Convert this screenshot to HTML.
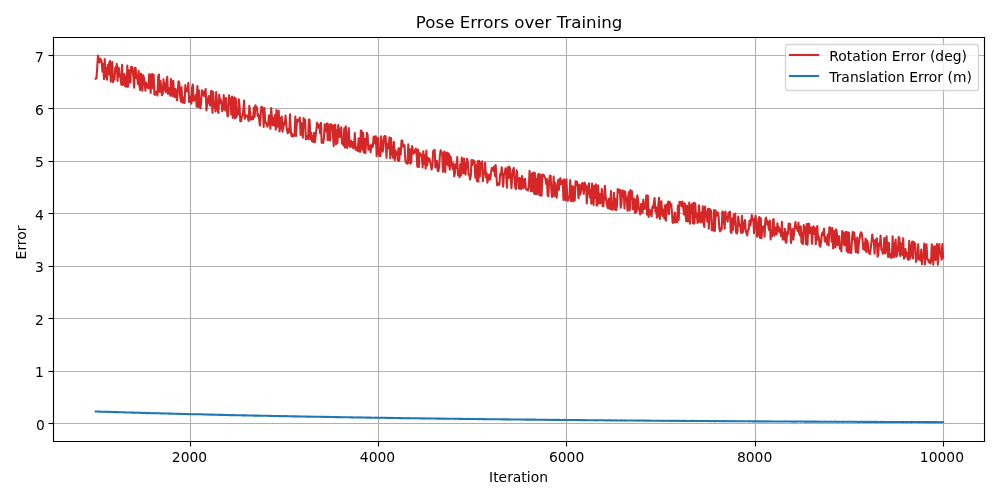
<!DOCTYPE html>
    <html><head><meta charset="utf-8"><title>Pose Errors over Training</title>
    <style>html,body{margin:0;padding:0;width:999px;height:499px;overflow:hidden;background:#ffffff}svg{display:block}</style>
    </head><body>
    <div style="will-change:transform;width:999px;height:499px">
    <svg width="999" height="499" viewBox="0 0 999 499">
    <rect x="0" y="0" width="999" height="499" fill="#ffffff"/>
    <defs><clipPath id="ax"><rect x="53.15" y="37.33" width="931.25" height="403.97"/></clipPath></defs>
    <g stroke="#b0b0b0" stroke-width="1.1111" stroke-linecap="square">
    <line x1="190.5" y1="37.5" x2="190.5" y2="441.5"/>
<line x1="378.5" y1="37.5" x2="378.5" y2="441.5"/>
<line x1="566.5" y1="37.5" x2="566.5" y2="441.5"/>
<line x1="755.5" y1="37.5" x2="755.5" y2="441.5"/>
<line x1="943.5" y1="37.5" x2="943.5" y2="441.5"/>
<line x1="53.5" y1="423.5" x2="984.5" y2="423.5"/>
<line x1="53.5" y1="371.5" x2="984.5" y2="371.5"/>
<line x1="53.5" y1="318.5" x2="984.5" y2="318.5"/>
<line x1="53.5" y1="266.5" x2="984.5" y2="266.5"/>
<line x1="53.5" y1="213.5" x2="984.5" y2="213.5"/>
<line x1="53.5" y1="161.5" x2="984.5" y2="161.5"/>
<line x1="53.5" y1="108.5" x2="984.5" y2="108.5"/>
<line x1="53.5" y1="55.5" x2="984.5" y2="55.5"/>
    </g>
    <g clip-path="url(#ax)" fill="none" stroke-width="2.0833" stroke-linejoin="round" stroke-linecap="square">
    <polyline stroke="#d62728" points="95.69,78.63 96.45,78.44 97.20,67.99 97.95,55.50 98.71,59.71 99.46,62.53 100.21,58.66 100.97,59.84 101.72,62.37 102.47,71.63 103.23,63.93 103.98,79.22 104.73,59.13 105.49,77.15 106.24,68.09 106.99,79.64 107.75,65.08 108.50,74.57 109.25,62.62 110.01,60.98 110.76,81.67 111.51,73.83 112.27,62.01 113.02,82.27 113.77,80.00 114.53,79.32 115.28,67.46 116.03,70.54 116.79,63.92 117.54,81.02 118.29,67.51 119.05,68.82 119.80,76.96 120.55,76.57 121.31,84.60 122.06,64.86 122.81,84.86 123.56,84.42 124.32,74.09 125.07,86.30 125.82,76.47 126.58,86.69 127.33,65.53 128.08,86.76 128.84,70.00 129.59,73.24 130.34,82.75 131.10,66.74 131.85,66.87 132.60,69.71 133.36,76.49 134.11,87.74 134.86,67.78 135.62,67.75 136.37,78.13 137.12,75.38 137.88,83.99 138.63,70.79 139.38,85.34 140.14,90.08 140.89,73.60 141.64,74.75 142.40,90.64 143.15,75.21 143.90,77.64 144.66,83.59 145.41,90.63 146.16,82.61 146.92,85.49 147.67,87.60 148.42,88.38 149.18,74.26 149.93,74.39 150.68,92.96 151.43,76.62 152.19,74.01 152.94,88.25 153.69,74.91 154.45,94.71 155.20,94.80 155.95,91.57 156.71,92.13 157.46,95.56 158.21,76.24 158.97,74.52 159.72,91.98 160.47,80.93 161.23,88.21 161.98,95.29 162.73,93.74 163.49,79.38 164.24,90.07 164.99,83.58 165.75,92.23 166.50,81.46 167.25,76.82 168.01,93.92 168.76,92.80 169.51,88.00 170.27,95.65 171.02,79.07 171.77,90.66 172.53,96.12 173.28,80.83 174.03,95.32 174.79,97.21 175.54,88.81 176.29,94.71 177.04,100.34 177.80,90.69 178.55,81.20 179.30,82.75 180.06,95.57 180.81,101.53 181.56,87.21 182.32,102.53 183.07,102.75 183.82,97.20 184.58,102.86 185.33,85.02 186.08,91.47 186.84,91.25 187.59,91.32 188.34,82.72 189.10,102.06 189.85,96.63 190.60,97.81 191.36,103.59 192.11,87.25 192.86,84.50 193.62,100.90 194.37,97.68 195.12,99.93 195.88,94.91 196.63,106.67 197.38,85.99 198.14,107.06 198.89,90.26 199.64,105.66 200.40,108.55 201.15,101.78 201.90,90.18 202.66,94.65 203.41,91.45 204.16,96.19 204.91,92.71 205.67,89.08 206.42,110.50 207.17,104.24 207.93,99.72 208.68,96.14 209.43,103.29 210.19,105.76 210.94,91.17 211.69,90.92 212.45,112.66 213.20,91.94 213.95,107.57 214.71,104.51 215.46,111.54 216.21,92.14 216.97,102.68 217.72,110.67 218.47,112.98 219.23,94.72 219.98,102.64 220.73,99.48 221.49,103.33 222.24,111.11 222.99,109.13 223.75,94.97 224.50,105.75 225.25,110.34 226.01,97.97 226.76,108.91 227.51,116.48 228.27,115.31 229.02,95.34 229.77,101.89 230.52,98.58 231.28,114.46 232.03,96.47 232.78,118.03 233.54,103.22 234.29,97.18 235.04,118.43 235.80,98.52 236.55,117.25 237.30,110.97 238.06,114.56 238.81,99.26 239.56,105.89 240.32,121.15 241.07,121.29 241.82,116.71 242.58,115.47 243.33,110.25 244.08,100.66 244.84,118.79 245.59,115.16 246.34,115.28 247.10,115.91 247.85,117.80 248.60,120.91 249.36,105.87 250.11,112.03 250.86,119.80 251.62,116.79 252.37,118.57 253.12,119.27 253.88,107.66 254.63,116.99 255.38,105.21 256.14,107.36 256.89,107.21 257.64,115.87 258.39,114.20 259.15,119.28 259.90,125.53 260.65,115.14 261.41,106.69 262.16,107.12 262.91,108.76 263.67,126.86 264.42,108.08 265.17,121.13 265.93,122.65 266.68,124.94 267.43,126.60 268.19,123.88 268.94,115.33 269.69,121.28 270.45,128.63 271.20,108.01 271.95,118.03 272.71,125.14 273.46,117.97 274.21,125.17 274.97,115.00 275.72,129.71 276.47,110.00 277.23,126.87 277.98,125.48 278.73,110.81 279.49,131.41 280.24,128.18 280.99,117.89 281.75,116.55 282.50,131.72 283.25,127.54 284.00,122.50 284.76,124.37 285.51,115.52 286.26,125.11 287.02,130.20 287.77,133.36 288.52,129.03 289.28,132.19 290.03,114.19 290.78,130.56 291.54,136.01 292.29,133.89 293.04,136.55 293.80,136.15 294.55,134.22 295.30,116.61 296.06,135.92 296.81,123.34 297.56,119.51 298.32,121.23 299.07,120.87 299.82,117.47 300.58,134.93 301.33,123.06 302.08,129.58 302.84,137.76 303.59,118.12 304.34,123.81 305.10,119.89 305.85,139.43 306.60,136.77 307.36,135.78 308.11,139.12 308.86,119.50 309.62,119.67 310.37,139.23 311.12,132.82 311.87,141.27 312.63,135.91 313.38,142.00 314.13,132.68 314.89,142.19 315.64,136.13 316.39,129.42 317.15,122.83 317.90,127.46 318.65,124.57 319.41,126.99 320.16,133.45 320.91,122.68 321.67,142.64 322.42,140.47 323.17,143.02 323.93,137.78 324.68,124.28 325.43,131.37 326.19,124.88 326.94,123.33 327.69,140.08 328.45,124.38 329.20,139.94 329.95,140.51 330.71,124.14 331.46,128.18 332.21,125.16 332.97,135.30 333.72,146.08 334.47,125.07 335.23,124.78 335.98,144.28 336.73,130.27 337.49,142.99 338.24,125.13 338.99,129.49 339.74,137.07 340.50,134.54 341.25,127.33 342.00,143.69 342.76,139.28 343.51,145.39 344.26,128.18 345.02,147.62 345.77,126.40 346.52,138.49 347.28,147.86 348.03,136.01 348.78,128.06 349.54,145.57 350.29,146.95 351.04,140.77 351.80,146.41 352.55,141.99 353.30,148.46 354.06,147.71 354.81,133.15 355.56,148.44 356.32,150.25 357.07,147.06 357.82,150.69 358.58,138.37 359.33,151.62 360.08,151.84 360.84,130.59 361.59,130.79 362.34,149.72 363.10,133.07 363.85,152.50 364.60,138.81 365.35,153.14 366.11,143.44 366.86,132.75 367.61,134.76 368.37,149.65 369.12,146.37 369.87,145.49 370.63,152.14 371.38,144.60 372.13,147.46 372.89,146.37 373.64,136.68 374.39,136.50 375.15,143.42 375.90,136.24 376.65,156.24 377.41,143.55 378.16,137.70 378.91,154.04 379.67,156.04 380.42,156.12 381.17,136.21 381.93,142.47 382.68,151.72 383.43,147.25 384.19,136.35 384.94,136.03 385.69,136.18 386.45,157.82 387.20,144.29 387.95,143.57 388.71,148.15 389.46,137.33 390.21,158.31 390.97,137.96 391.72,146.64 392.47,154.70 393.22,157.92 393.98,141.87 394.73,160.20 395.48,150.38 396.24,152.55 396.99,152.71 397.74,160.34 398.50,148.18 399.25,160.96 400.00,148.37 400.76,154.39 401.51,140.48 402.26,140.55 403.02,146.21 403.77,147.08 404.52,145.19 405.28,160.30 406.03,162.71 406.78,162.96 407.54,163.76 408.29,144.29 409.04,162.44 409.80,149.16 410.55,163.67 411.30,161.94 412.06,146.00 412.81,149.56 413.56,153.62 414.32,150.68 415.07,152.50 415.82,148.43 416.58,153.81 417.33,166.66 418.08,149.48 418.83,167.07 419.59,153.31 420.34,153.34 421.09,155.37 421.85,155.28 422.60,167.40 423.35,151.20 424.11,163.66 424.86,155.28 425.61,168.61 426.37,150.48 427.12,165.62 427.87,157.80 428.63,161.24 429.38,158.58 430.13,162.18 430.89,165.10 431.64,169.54 432.39,164.82 433.15,150.95 433.90,150.62 434.65,149.81 435.41,167.41 436.16,166.06 436.91,160.87 437.67,170.79 438.42,171.18 439.17,166.43 439.93,154.47 440.68,150.22 441.43,151.69 442.19,154.14 442.94,171.70 443.69,153.41 444.45,151.51 445.20,172.27 445.95,152.74 446.70,164.19 447.46,152.53 448.21,165.77 448.96,153.87 449.72,169.77 450.47,156.29 451.22,160.20 451.98,165.66 452.73,169.13 453.48,163.28 454.24,176.17 454.99,172.70 455.74,164.27 456.50,167.83 457.25,156.99 458.00,175.11 458.76,170.88 459.51,177.26 460.26,164.31 461.02,175.46 461.77,157.47 462.52,167.50 463.28,173.37 464.03,158.63 464.78,170.03 465.54,174.50 466.29,164.54 467.04,158.81 467.80,162.03 468.55,174.54 469.30,174.47 470.06,179.48 470.81,175.79 471.56,160.01 472.32,165.12 473.07,160.15 473.82,160.98 474.57,161.36 475.33,177.74 476.08,165.53 476.83,181.02 477.59,161.34 478.34,181.64 479.09,160.72 479.85,176.44 480.60,162.96 481.35,168.06 482.11,161.28 482.86,181.32 483.61,172.01 484.37,173.60 485.12,162.85 485.87,177.19 486.63,172.90 487.38,182.64 488.13,178.95 488.89,174.70 489.64,179.49 490.39,179.49 491.15,171.37 491.90,167.73 492.65,169.56 493.41,170.80 494.16,166.58 494.91,176.00 495.67,165.11 496.42,176.49 497.17,185.53 497.93,184.60 498.68,183.11 499.43,184.70 500.18,173.90 500.94,174.73 501.69,167.19 502.44,175.41 503.20,186.80 503.95,174.16 504.70,173.57 505.46,168.36 506.21,175.96 506.96,187.59 507.72,167.21 508.47,178.15 509.22,166.64 509.98,168.18 510.73,179.04 511.48,188.31 512.24,175.22 512.99,170.13 513.74,167.89 514.50,178.26 515.25,187.62 516.00,188.85 516.76,170.40 517.51,176.88 518.26,179.86 519.02,188.74 519.77,178.01 520.52,188.53 521.28,189.09 522.03,175.92 522.78,184.95 523.54,188.08 524.29,179.39 525.04,178.84 525.80,188.40 526.55,189.76 527.30,189.28 528.05,190.42 528.81,186.22 529.56,170.73 530.31,185.65 531.07,191.41 531.82,173.56 532.57,190.92 533.33,172.56 534.08,193.73 534.83,172.77 535.59,194.13 536.34,179.01 537.09,194.07 537.85,175.66 538.60,173.88 539.35,195.23 540.11,174.61 540.86,195.53 541.61,195.72 542.37,174.50 543.12,174.74 543.87,175.16 544.63,177.12 545.38,178.13 546.13,183.96 546.89,178.93 547.64,195.54 548.39,196.30 549.15,180.92 549.90,175.54 550.65,175.95 551.41,191.79 552.16,197.00 552.91,190.22 553.66,176.59 554.42,196.12 555.17,182.68 555.92,192.06 556.68,197.69 557.43,186.08 558.18,180.12 558.94,189.66 559.69,179.19 560.44,178.22 561.20,184.25 561.95,182.90 562.70,180.55 563.46,199.95 564.21,179.41 564.96,197.99 565.72,200.42 566.47,179.32 567.22,196.29 567.98,200.80 568.73,198.38 569.48,196.46 570.24,180.07 570.99,201.24 571.74,194.29 572.50,185.93 573.25,201.47 574.00,187.32 574.76,200.44 575.51,181.29 576.26,184.98 577.02,181.55 577.77,186.82 578.52,198.32 579.28,184.61 580.03,194.75 580.78,192.50 581.53,185.16 582.29,182.96 583.04,188.39 583.79,193.83 584.55,182.49 585.30,184.74 586.05,186.34 586.81,203.53 587.56,186.30 588.31,193.89 589.07,183.20 589.82,197.54 590.57,190.02 591.33,203.80 592.08,183.61 592.83,195.80 593.59,204.98 594.34,185.81 595.09,198.07 595.85,184.19 596.60,205.55 597.35,205.48 598.11,185.27 598.86,203.20 599.61,193.71 600.37,203.40 601.12,199.07 601.87,189.07 602.63,206.24 603.38,206.31 604.13,196.91 604.89,185.73 605.64,196.37 606.39,201.26 607.14,205.59 607.90,208.16 608.65,198.89 609.40,208.44 610.16,208.92 610.91,191.00 611.66,209.45 612.42,209.66 613.17,206.04 613.92,192.90 614.68,209.44 615.43,199.16 616.18,210.14 616.94,206.14 617.69,189.04 618.44,192.56 619.20,189.57 619.95,190.13 620.70,207.74 621.46,203.59 622.21,190.39 622.96,192.83 623.72,190.81 624.47,208.50 625.22,191.75 625.98,198.43 626.73,197.48 627.48,210.59 628.24,196.17 628.99,192.00 629.74,210.39 630.50,190.08 631.25,198.72 632.00,191.33 632.76,209.22 633.51,209.32 634.26,198.63 635.01,212.92 635.77,199.81 636.52,211.95 637.27,195.34 638.03,199.16 638.78,209.45 639.53,210.33 640.29,214.48 641.04,204.15 641.79,203.77 642.55,212.96 643.30,199.58 644.05,208.91 644.81,208.34 645.56,206.19 646.31,195.29 647.07,214.64 647.82,195.50 648.57,216.97 649.33,209.54 650.08,210.37 650.83,214.68 651.59,216.39 652.34,206.81 653.09,208.20 653.85,202.55 654.60,198.04 655.35,211.43 656.11,207.38 656.86,217.78 657.61,216.49 658.37,204.39 659.12,197.74 659.87,218.94 660.62,207.50 661.38,201.18 662.13,214.20 662.88,216.27 663.64,209.39 664.39,218.65 665.14,205.18 665.90,220.59 666.65,204.58 667.40,211.70 668.16,201.59 668.91,214.23 669.66,201.81 670.42,205.93 671.17,204.16 671.92,211.56 672.68,222.90 673.43,216.48 674.18,222.45 674.94,212.44 675.69,222.23 676.44,221.84 677.20,222.16 677.95,205.44 678.70,219.90 679.46,201.75 680.21,202.02 680.96,202.41 681.72,206.30 682.47,201.61 683.22,206.65 683.98,214.49 684.73,203.29 685.48,214.24 686.24,221.23 686.99,205.51 687.74,221.57 688.49,220.54 689.25,202.44 690.00,223.64 690.75,208.88 691.51,204.91 692.26,203.91 693.01,223.57 693.77,202.71 694.52,223.51 695.27,203.24 696.03,216.86 696.78,213.42 697.53,223.06 698.29,221.84 699.04,205.34 699.79,221.04 700.55,222.29 701.30,212.61 702.05,221.59 702.81,206.17 703.56,223.73 704.31,226.90 705.07,206.56 705.82,216.45 706.57,212.15 707.33,221.76 708.08,208.86 708.83,228.69 709.59,208.89 710.34,209.83 711.09,210.74 711.85,230.16 712.60,230.23 713.35,230.35 714.11,209.98 714.86,231.07 715.61,210.32 716.36,216.07 717.12,213.21 717.87,212.47 718.62,217.14 719.38,228.88 720.13,231.34 720.88,227.99 721.64,229.58 722.39,211.48 723.14,212.22 723.90,221.94 724.65,228.75 725.40,211.45 726.16,218.98 726.91,216.98 727.66,221.62 728.42,212.81 729.17,213.12 729.92,211.57 730.68,231.47 731.43,232.99 732.18,218.17 732.94,229.89 733.69,214.86 734.44,224.26 735.20,213.45 735.95,232.17 736.70,233.43 737.46,232.04 738.21,216.51 738.96,222.23 739.72,225.20 740.47,227.80 741.22,232.94 741.97,215.69 742.73,232.80 743.48,228.91 744.23,222.54 744.99,219.97 745.74,230.97 746.49,233.40 747.25,235.46 748.00,229.83 748.75,229.59 749.51,220.51 750.26,225.50 751.01,221.54 751.77,214.97 752.52,220.32 753.27,218.75 754.03,233.19 754.78,222.58 755.53,215.44 756.29,222.14 757.04,236.70 757.79,235.98 758.55,219.35 759.30,217.03 760.05,237.99 760.81,218.34 761.56,237.98 762.31,227.02 763.07,229.70 763.82,226.12 764.57,236.59 765.33,219.49 766.08,217.57 766.83,223.97 767.59,221.14 768.34,226.43 769.09,229.92 769.84,220.50 770.60,239.46 771.35,232.54 772.10,236.18 772.86,220.98 773.61,218.96 774.36,235.68 775.12,227.28 775.87,233.71 776.62,234.40 777.38,223.33 778.13,231.38 778.88,227.28 779.64,232.37 780.39,229.25 781.14,236.10 781.90,221.78 782.65,239.54 783.40,233.03 784.16,239.46 784.91,228.73 785.66,242.41 786.42,242.68 787.17,231.77 787.92,234.10 788.68,223.49 789.43,224.41 790.18,223.96 790.94,243.08 791.69,230.92 792.44,229.13 793.20,239.66 793.95,234.51 794.70,226.88 795.45,222.06 796.21,228.11 796.96,227.57 797.71,231.19 798.47,222.57 799.22,233.28 799.97,235.39 800.73,226.32 801.48,242.79 802.23,233.35 802.99,244.08 803.74,225.11 804.49,228.29 805.25,227.40 806.00,244.19 806.75,223.93 807.51,244.81 808.26,223.78 809.01,223.77 809.77,233.30 810.52,228.13 811.27,227.33 812.03,243.83 812.78,230.23 813.53,226.20 814.29,234.05 815.04,228.25 815.79,244.25 816.55,229.42 817.30,226.04 818.05,239.74 818.81,236.52 819.56,245.53 820.31,246.65 821.07,241.87 821.82,234.08 822.57,232.30 823.32,235.33 824.08,228.49 824.83,241.52 825.58,236.80 826.34,240.28 827.09,244.34 827.84,234.32 828.60,245.51 829.35,227.34 830.10,227.58 830.86,228.86 831.61,241.65 832.36,228.02 833.12,248.37 833.87,230.73 834.62,233.43 835.38,247.56 836.13,229.26 836.88,233.20 837.64,245.24 838.39,242.58 839.14,236.16 839.90,249.00 840.65,244.66 841.40,251.43 842.16,231.00 842.91,243.47 843.66,232.54 844.42,245.36 845.17,243.52 845.92,231.88 846.68,251.32 847.43,232.40 848.18,252.67 848.94,232.49 849.69,249.00 850.44,252.94 851.19,252.96 851.95,240.21 852.70,231.83 853.45,239.48 854.21,232.53 854.96,239.71 855.71,252.29 856.47,251.61 857.22,237.57 857.97,252.85 858.73,244.62 859.48,239.59 860.23,234.26 860.99,232.29 861.74,233.21 862.49,239.04 863.25,249.20 864.00,243.47 864.75,249.97 865.51,238.49 866.26,252.00 867.01,240.38 867.77,242.66 868.52,251.67 869.27,253.18 870.03,254.14 870.78,247.95 871.53,241.60 872.29,234.48 873.04,241.14 873.79,240.33 874.55,253.67 875.30,240.36 876.05,243.95 876.80,238.22 877.56,256.64 878.31,255.13 879.06,243.30 879.82,245.38 880.57,235.63 881.32,249.65 882.08,250.29 882.83,253.73 883.58,248.54 884.34,237.93 885.09,253.39 885.84,242.72 886.60,236.37 887.35,251.02 888.10,256.98 888.86,242.83 889.61,254.94 890.36,257.39 891.12,253.71 891.87,257.82 892.62,236.33 893.38,253.55 894.13,257.19 894.88,243.81 895.64,239.63 896.39,256.62 897.14,255.01 897.90,249.93 898.65,237.15 899.40,237.69 900.16,255.87 900.91,243.15 901.66,244.11 902.42,254.95 903.17,238.38 903.92,258.64 904.67,256.74 905.43,248.94 906.18,256.46 906.93,252.43 907.69,258.58 908.44,259.79 909.19,240.89 909.95,258.81 910.70,256.23 911.45,244.82 912.21,241.46 912.96,258.40 913.71,241.71 914.47,244.71 915.22,243.63 915.97,261.88 916.73,259.59 917.48,255.70 918.23,244.40 918.99,259.42 919.74,259.64 920.49,260.56 921.25,249.52 922.00,264.25 922.75,256.96 923.51,255.88 924.26,243.50 925.01,264.40 925.77,253.16 926.52,244.19 927.27,259.06 928.03,259.45 928.78,262.31 929.53,260.43 930.28,263.55 931.04,261.32 931.79,244.23 932.54,246.47 933.30,264.63 934.05,250.12 934.80,246.39 935.56,259.90 936.31,251.75 937.06,243.95 937.82,264.71 938.57,253.46 939.32,244.14 940.08,252.91 940.83,254.55 941.58,259.69 942.34,244.00 943.09,257.88"/>
    <polyline stroke="#1f77b4" points="95.69,411.47 96.45,411.54 97.20,411.42 97.95,411.58 98.71,411.59 99.46,411.53 100.21,411.69 100.97,411.69 101.72,411.67 102.47,411.73 103.23,411.79 103.98,411.76 104.73,411.80 105.49,411.77 106.24,411.91 106.99,411.88 107.75,411.81 108.50,411.79 109.25,411.99 110.01,411.90 110.76,412.01 111.51,412.03 112.27,412.05 113.02,412.05 113.77,412.00 114.53,412.04 115.28,412.09 116.03,412.14 116.79,412.14 117.54,412.17 118.29,412.14 119.05,412.24 119.80,412.23 120.55,412.26 121.31,412.28 122.06,412.28 122.81,412.31 123.56,412.27 124.32,412.37 125.07,412.30 125.82,412.42 126.58,412.45 127.33,412.45 128.08,412.45 128.84,412.48 129.59,412.45 130.34,412.48 131.10,412.53 131.85,412.60 132.60,412.61 133.36,412.55 134.11,412.63 134.86,412.73 135.62,412.72 136.37,412.74 137.12,412.67 137.88,412.76 138.63,412.65 139.38,412.76 140.14,412.81 140.89,412.86 141.64,412.81 142.40,412.89 143.15,412.94 143.90,412.89 144.66,412.94 145.41,412.90 146.16,412.99 146.92,413.15 147.67,412.98 148.42,413.14 149.18,412.98 149.93,412.99 150.68,413.13 151.43,413.19 152.19,413.22 152.94,413.12 153.69,413.20 154.45,413.24 155.20,413.24 155.95,413.14 156.71,413.25 157.46,413.25 158.21,413.27 158.97,413.27 159.72,413.29 160.47,413.41 161.23,413.40 161.98,413.45 162.73,413.47 163.49,413.39 164.24,413.49 164.99,413.49 165.75,413.54 166.50,413.56 167.25,413.50 168.01,413.59 168.76,413.61 169.51,413.58 170.27,413.60 171.02,413.60 171.77,413.65 172.53,413.77 173.28,413.67 174.03,413.69 174.79,413.69 175.54,413.80 176.29,413.65 177.04,413.86 177.80,413.78 178.55,413.83 179.30,413.88 180.06,413.83 180.81,413.91 181.56,414.03 182.32,413.99 183.07,413.93 183.82,413.85 184.58,414.07 185.33,414.01 186.08,413.95 186.84,414.01 187.59,414.08 188.34,414.16 189.10,414.19 189.85,414.16 190.60,414.16 191.36,414.27 192.11,414.26 192.86,414.18 193.62,414.23 194.37,414.27 195.12,414.27 195.88,414.31 196.63,414.23 197.38,414.21 198.14,414.21 198.89,414.30 199.64,414.32 200.40,414.30 201.15,414.30 201.90,414.33 202.66,414.36 203.41,414.48 204.16,414.55 204.91,414.43 205.67,414.50 206.42,414.52 207.17,414.58 207.93,414.62 208.68,414.49 209.43,414.56 210.19,414.66 210.94,414.60 211.69,414.62 212.45,414.63 213.20,414.56 213.95,414.69 214.71,414.78 215.46,414.72 216.21,414.78 216.97,414.73 217.72,414.77 218.47,414.78 219.23,414.84 219.98,414.81 220.73,414.87 221.49,414.84 222.24,414.90 222.99,414.96 223.75,414.89 224.50,414.97 225.25,414.87 226.01,414.94 226.76,414.96 227.51,414.99 228.27,415.02 229.02,415.16 229.77,414.98 230.52,415.11 231.28,415.03 232.03,415.13 232.78,415.12 233.54,415.14 234.29,415.20 235.04,415.17 235.80,415.15 236.55,415.22 237.30,415.28 238.06,415.26 238.81,415.23 239.56,415.20 240.32,415.23 241.07,415.28 241.82,415.36 242.58,415.28 243.33,415.34 244.08,415.37 244.84,415.33 245.59,415.36 246.34,415.38 247.10,415.48 247.85,415.47 248.60,415.54 249.36,415.46 250.11,415.48 250.86,415.45 251.62,415.51 252.37,415.55 253.12,415.44 253.88,415.62 254.63,415.65 255.38,415.63 256.14,415.58 256.89,415.64 257.64,415.66 258.39,415.72 259.15,415.59 259.90,415.72 260.65,415.76 261.41,415.72 262.16,415.78 262.91,415.76 263.67,415.69 264.42,415.80 265.17,415.80 265.93,415.83 266.68,415.83 267.43,415.80 268.19,415.83 268.94,415.89 269.69,415.93 270.45,415.91 271.20,415.87 271.95,415.93 272.71,415.95 273.46,416.05 274.21,415.92 274.97,416.07 275.72,416.07 276.47,416.04 277.23,416.03 277.98,416.05 278.73,416.10 279.49,416.09 280.24,416.12 280.99,416.20 281.75,416.13 282.50,416.17 283.25,416.13 284.00,416.17 284.76,416.13 285.51,416.16 286.26,416.16 287.02,416.16 287.77,416.20 288.52,416.26 289.28,416.19 290.03,416.33 290.78,416.30 291.54,416.26 292.29,416.34 293.04,416.30 293.80,416.39 294.55,416.39 295.30,416.35 296.06,416.35 296.81,416.34 297.56,416.42 298.32,416.42 299.07,416.41 299.82,416.44 300.58,416.54 301.33,416.52 302.08,416.43 302.84,416.58 303.59,416.50 304.34,416.57 305.10,416.51 305.85,416.61 306.60,416.58 307.36,416.71 308.11,416.61 308.86,416.57 309.62,416.72 310.37,416.59 311.12,416.70 311.87,416.68 312.63,416.84 313.38,416.65 314.13,416.77 314.89,416.76 315.64,416.81 316.39,416.81 317.15,416.71 317.90,416.81 318.65,416.75 319.41,416.82 320.16,416.81 320.91,416.87 321.67,416.83 322.42,416.73 323.17,416.84 323.93,416.86 324.68,416.93 325.43,416.86 326.19,416.86 326.94,417.03 327.69,417.03 328.45,416.86 329.20,416.96 329.95,416.99 330.71,416.98 331.46,416.96 332.21,416.99 332.97,417.06 333.72,416.95 334.47,417.07 335.23,417.13 335.98,417.13 336.73,417.12 337.49,417.14 338.24,417.14 338.99,417.13 339.74,417.33 340.50,417.21 341.25,417.13 342.00,417.17 342.76,417.24 343.51,417.25 344.26,417.17 345.02,417.26 345.77,417.29 346.52,417.17 347.28,417.30 348.03,417.26 348.78,417.31 349.54,417.32 350.29,417.38 351.04,417.39 351.80,417.29 352.55,417.43 353.30,417.36 354.06,417.45 354.81,417.42 355.56,417.42 356.32,417.51 357.07,417.38 357.82,417.46 358.58,417.40 359.33,417.52 360.08,417.44 360.84,417.38 361.59,417.50 362.34,417.56 363.10,417.51 363.85,417.54 364.60,417.57 365.35,417.58 366.11,417.61 366.86,417.57 367.61,417.62 368.37,417.66 369.12,417.58 369.87,417.65 370.63,417.51 371.38,417.67 372.13,417.71 372.89,417.71 373.64,417.68 374.39,417.74 375.15,417.78 375.90,417.64 376.65,417.81 377.41,417.67 378.16,417.76 378.91,417.83 379.67,417.70 380.42,417.81 381.17,417.86 381.93,417.82 382.68,417.76 383.43,417.81 384.19,417.81 384.94,417.77 385.69,417.86 386.45,417.87 387.20,417.91 387.95,417.98 388.71,417.93 389.46,417.85 390.21,418.03 390.97,417.88 391.72,417.95 392.47,418.02 393.22,417.98 393.98,417.90 394.73,418.04 395.48,417.98 396.24,417.97 396.99,418.09 397.74,418.02 398.50,418.03 399.25,418.10 400.00,418.05 400.76,418.11 401.51,418.13 402.26,418.18 403.02,418.10 403.77,418.16 404.52,418.17 405.28,418.22 406.03,418.24 406.78,418.22 407.54,418.15 408.29,418.24 409.04,418.13 409.80,418.20 410.55,418.22 411.30,418.30 412.06,418.15 412.81,418.34 413.56,418.24 414.32,418.19 415.07,418.30 415.82,418.34 416.58,418.31 417.33,418.27 418.08,418.26 418.83,418.31 419.59,418.41 420.34,418.40 421.09,418.36 421.85,418.45 422.60,418.40 423.35,418.28 424.11,418.47 424.86,418.36 425.61,418.48 426.37,418.46 427.12,418.46 427.87,418.54 428.63,418.48 429.38,418.41 430.13,418.45 430.89,418.46 431.64,418.55 432.39,418.53 433.15,418.52 433.90,418.50 434.65,418.48 435.41,418.61 436.16,418.48 436.91,418.59 437.67,418.60 438.42,418.66 439.17,418.61 439.93,418.63 440.68,418.69 441.43,418.65 442.19,418.64 442.94,418.68 443.69,418.62 444.45,418.73 445.20,418.64 445.95,418.70 446.70,418.68 447.46,418.81 448.21,418.71 448.96,418.73 449.72,418.69 450.47,418.81 451.22,418.69 451.98,418.83 452.73,418.71 453.48,418.76 454.24,418.84 454.99,418.69 455.74,418.88 456.50,418.83 457.25,418.82 458.00,418.81 458.76,418.84 459.51,418.82 460.26,418.85 461.02,418.88 461.77,418.94 462.52,418.91 463.28,418.86 464.03,418.98 464.78,418.92 465.54,419.04 466.29,418.98 467.04,419.04 467.80,418.89 468.55,419.06 469.30,418.99 470.06,418.95 470.81,418.96 471.56,418.96 472.32,418.96 473.07,419.00 473.82,418.99 474.57,419.04 475.33,419.05 476.08,419.15 476.83,419.06 477.59,419.01 478.34,419.12 479.09,419.15 479.85,419.10 480.60,419.05 481.35,419.05 482.11,419.20 482.86,419.11 483.61,419.18 484.37,419.14 485.12,419.28 485.87,419.12 486.63,419.20 487.38,419.17 488.13,419.20 488.89,419.26 489.64,419.18 490.39,419.24 491.15,419.26 491.90,419.20 492.65,419.25 493.41,419.29 494.16,419.21 494.91,419.30 495.67,419.28 496.42,419.25 497.17,419.24 497.93,419.24 498.68,419.22 499.43,419.32 500.18,419.37 500.94,419.25 501.69,419.27 502.44,419.37 503.20,419.32 503.95,419.39 504.70,419.46 505.46,419.33 506.21,419.37 506.96,419.39 507.72,419.32 508.47,419.34 509.22,419.46 509.98,419.49 510.73,419.54 511.48,419.45 512.24,419.48 512.99,419.44 513.74,419.47 514.50,419.51 515.25,419.51 516.00,419.58 516.76,419.44 517.51,419.54 518.26,419.49 519.02,419.56 519.77,419.53 520.52,419.51 521.28,419.56 522.03,419.60 522.78,419.44 523.54,419.58 524.29,419.55 525.04,419.59 525.80,419.64 526.55,419.53 527.30,419.59 528.05,419.60 528.81,419.75 529.56,419.62 530.31,419.60 531.07,419.63 531.82,419.66 532.57,419.60 533.33,419.66 534.08,419.65 534.83,419.63 535.59,419.64 536.34,419.77 537.09,419.69 537.85,419.76 538.60,419.83 539.35,419.72 540.11,419.83 540.86,419.77 541.61,419.89 542.37,419.81 543.12,419.79 543.87,419.78 544.63,419.81 545.38,419.84 546.13,419.84 546.89,419.72 547.64,419.84 548.39,419.82 549.15,419.73 549.90,419.93 550.65,419.95 551.41,419.90 552.16,419.88 552.91,419.92 553.66,419.87 554.42,419.88 555.17,419.97 555.92,419.88 556.68,419.97 557.43,419.87 558.18,419.90 558.94,419.80 559.69,419.88 560.44,419.94 561.20,419.92 561.95,419.94 562.70,419.99 563.46,420.04 564.21,419.91 564.96,419.90 565.72,420.01 566.47,420.00 567.22,420.02 567.98,419.95 568.73,419.95 569.48,420.06 570.24,420.04 570.99,420.06 571.74,420.03 572.50,420.00 573.25,419.99 574.00,420.07 574.76,420.12 575.51,420.04 576.26,420.05 577.02,420.10 577.77,420.08 578.52,420.08 579.28,420.06 580.03,420.11 580.78,420.09 581.53,420.11 582.29,420.18 583.04,420.10 583.79,420.14 584.55,420.09 585.30,420.22 586.05,420.20 586.81,420.15 587.56,420.27 588.31,420.19 589.07,420.21 589.82,420.22 590.57,420.21 591.33,420.33 592.08,420.21 592.83,420.22 593.59,420.17 594.34,420.16 595.09,420.22 595.85,420.20 596.60,420.38 597.35,420.23 598.11,420.21 598.86,420.23 599.61,420.27 600.37,420.30 601.12,420.31 601.87,420.30 602.63,420.28 603.38,420.28 604.13,420.32 604.89,420.39 605.64,420.23 606.39,420.38 607.14,420.48 607.90,420.27 608.65,420.30 609.40,420.35 610.16,420.31 610.91,420.35 611.66,420.42 612.42,420.38 613.17,420.45 613.92,420.43 614.68,420.45 615.43,420.40 616.18,420.36 616.94,420.45 617.69,420.40 618.44,420.54 619.20,420.49 619.95,420.42 620.70,420.40 621.46,420.41 622.21,420.41 622.96,420.55 623.72,420.50 624.47,420.62 625.22,420.49 625.98,420.48 626.73,420.52 627.48,420.55 628.24,420.49 628.99,420.49 629.74,420.51 630.50,420.56 631.25,420.53 632.00,420.53 632.76,420.53 633.51,420.52 634.26,420.56 635.01,420.64 635.77,420.58 636.52,420.55 637.27,420.60 638.03,420.57 638.78,420.63 639.53,420.53 640.29,420.58 641.04,420.60 641.79,420.57 642.55,420.58 643.30,420.62 644.05,420.58 644.81,420.60 645.56,420.63 646.31,420.65 647.07,420.71 647.82,420.65 648.57,420.65 649.33,420.71 650.08,420.60 650.83,420.68 651.59,420.74 652.34,420.71 653.09,420.70 653.85,420.70 654.60,420.75 655.35,420.71 656.11,420.79 656.86,420.75 657.61,420.71 658.37,420.77 659.12,420.71 659.87,420.70 660.62,420.78 661.38,420.88 662.13,420.71 662.88,420.70 663.64,420.86 664.39,420.77 665.14,420.77 665.90,420.87 666.65,420.82 667.40,420.73 668.16,420.79 668.91,420.81 669.66,420.75 670.42,420.85 671.17,420.92 671.92,420.76 672.68,420.88 673.43,420.84 674.18,420.78 674.94,420.83 675.69,420.85 676.44,420.89 677.20,420.83 677.95,420.75 678.70,420.90 679.46,420.94 680.21,420.87 680.96,420.93 681.72,420.89 682.47,420.90 683.22,420.88 683.98,420.90 684.73,420.90 685.48,420.85 686.24,420.98 686.99,420.93 687.74,420.92 688.49,421.00 689.25,420.99 690.00,420.97 690.75,420.98 691.51,420.90 692.26,420.96 693.01,420.82 693.77,420.99 694.52,421.00 695.27,420.87 696.03,421.02 696.78,420.88 697.53,421.16 698.29,421.04 699.04,420.93 699.79,420.93 700.55,420.99 701.30,421.06 702.05,421.03 702.81,420.99 703.56,421.02 704.31,420.99 705.07,421.08 705.82,421.01 706.57,420.99 707.33,420.90 708.08,421.03 708.83,421.03 709.59,421.12 710.34,421.15 711.09,421.20 711.85,421.06 712.60,420.99 713.35,421.10 714.11,421.23 714.86,421.10 715.61,421.12 716.36,421.14 717.12,421.03 717.87,421.06 718.62,421.05 719.38,421.18 720.13,421.12 720.88,421.20 721.64,421.09 722.39,421.21 723.14,421.09 723.90,421.15 724.65,421.15 725.40,421.25 726.16,421.14 726.91,421.28 727.66,421.25 728.42,421.24 729.17,421.09 729.92,421.19 730.68,421.24 731.43,421.18 732.18,421.09 732.94,421.22 733.69,421.28 734.44,421.28 735.20,421.23 735.95,421.15 736.70,421.25 737.46,421.26 738.21,421.30 738.96,421.31 739.72,421.20 740.47,421.24 741.22,421.24 741.97,421.34 742.73,421.24 743.48,421.26 744.23,421.20 744.99,421.23 745.74,421.30 746.49,421.28 747.25,421.28 748.00,421.31 748.75,421.35 749.51,421.27 750.26,421.20 751.01,421.33 751.77,421.24 752.52,421.35 753.27,421.35 754.03,421.34 754.78,421.36 755.53,421.30 756.29,421.29 757.04,421.49 757.79,421.32 758.55,421.34 759.30,421.28 760.05,421.42 760.81,421.37 761.56,421.32 762.31,421.34 763.07,421.31 763.82,421.43 764.57,421.43 765.33,421.37 766.08,421.48 766.83,421.39 767.59,421.36 768.34,421.40 769.09,421.49 769.84,421.46 770.60,421.45 771.35,421.41 772.10,421.42 772.86,421.46 773.61,421.53 774.36,421.55 775.12,421.51 775.87,421.51 776.62,421.50 777.38,421.52 778.13,421.48 778.88,421.51 779.64,421.47 780.39,421.48 781.14,421.46 781.90,421.54 782.65,421.54 783.40,421.56 784.16,421.50 784.91,421.47 785.66,421.45 786.42,421.51 787.17,421.53 787.92,421.48 788.68,421.53 789.43,421.58 790.18,421.49 790.94,421.56 791.69,421.62 792.44,421.56 793.20,421.59 793.95,421.56 794.70,421.59 795.45,421.58 796.21,421.60 796.96,421.57 797.71,421.54 798.47,421.56 799.22,421.58 799.97,421.53 800.73,421.66 801.48,421.58 802.23,421.53 802.99,421.57 803.74,421.54 804.49,421.65 805.25,421.55 806.00,421.65 806.75,421.56 807.51,421.61 808.26,421.58 809.01,421.67 809.77,421.64 810.52,421.73 811.27,421.62 812.03,421.60 812.78,421.63 813.53,421.59 814.29,421.62 815.04,421.65 815.79,421.63 816.55,421.69 817.30,421.62 818.05,421.65 818.81,421.65 819.56,421.68 820.31,421.71 821.07,421.73 821.82,421.70 822.57,421.65 823.32,421.79 824.08,421.69 824.83,421.51 825.58,421.69 826.34,421.71 827.09,421.69 827.84,421.72 828.60,421.71 829.35,421.71 830.10,421.77 830.86,421.66 831.61,421.72 832.36,421.67 833.12,421.72 833.87,421.68 834.62,421.74 835.38,421.58 836.13,421.69 836.88,421.68 837.64,421.76 838.39,421.84 839.14,421.78 839.90,421.74 840.65,421.76 841.40,421.80 842.16,421.81 842.91,421.84 843.66,421.80 844.42,421.75 845.17,421.75 845.92,421.76 846.68,421.80 847.43,421.79 848.18,421.80 848.94,421.78 849.69,421.79 850.44,421.78 851.19,421.82 851.95,421.82 852.70,421.75 853.45,421.76 854.21,421.94 854.96,421.81 855.71,421.82 856.47,421.80 857.22,421.96 857.97,421.94 858.73,421.87 859.48,421.85 860.23,421.92 860.99,421.80 861.74,421.81 862.49,421.84 863.25,421.83 864.00,421.94 864.75,421.89 865.51,422.00 866.26,421.84 867.01,421.83 867.77,421.87 868.52,421.95 869.27,421.90 870.03,421.85 870.78,421.97 871.53,421.90 872.29,421.87 873.04,421.95 873.79,421.95 874.55,421.86 875.30,421.88 876.05,421.85 876.80,421.91 877.56,421.98 878.31,421.94 879.06,421.97 879.82,421.95 880.57,421.92 881.32,421.87 882.08,421.94 882.83,421.85 883.58,422.02 884.34,421.97 885.09,421.96 885.84,422.07 886.60,422.05 887.35,421.99 888.10,421.97 888.86,421.95 889.61,421.97 890.36,422.00 891.12,422.05 891.87,421.98 892.62,421.91 893.38,421.97 894.13,422.03 894.88,421.99 895.64,421.98 896.39,421.94 897.14,422.03 897.90,421.98 898.65,421.98 899.40,422.03 900.16,422.02 900.91,422.04 901.66,422.02 902.42,422.01 903.17,422.09 903.92,422.04 904.67,421.96 905.43,422.04 906.18,422.14 906.93,421.97 907.69,422.06 908.44,422.04 909.19,422.02 909.95,422.07 910.70,422.11 911.45,422.10 912.21,422.05 912.96,422.07 913.71,422.08 914.47,421.96 915.22,422.06 915.97,422.03 916.73,421.97 917.48,422.07 918.23,422.10 918.99,422.10 919.74,422.08 920.49,422.00 921.25,422.04 922.00,422.11 922.75,422.13 923.51,422.06 924.26,422.01 925.01,422.14 925.77,422.03 926.52,422.10 927.27,422.11 928.03,422.13 928.78,422.16 929.53,422.15 930.28,422.06 931.04,422.20 931.79,422.15 932.54,422.14 933.30,422.20 934.05,422.16 934.80,422.21 935.56,422.11 936.31,422.11 937.06,422.22 937.82,422.08 938.57,422.21 939.32,422.26 940.08,422.25 940.83,422.14 941.58,422.29 942.34,422.17 943.09,422.16"/>
    </g>
    <g stroke="#000000" stroke-width="1.1111" stroke-linecap="square" fill="none">
    <line x1="53.5" y1="37.5" x2="53.5" y2="441.5"/>
    <line x1="984.5" y1="37.5" x2="984.5" y2="441.5"/>
    <line x1="53.5" y1="441.5" x2="984.5" y2="441.5"/>
    <line x1="53.5" y1="37.5" x2="984.5" y2="37.5"/>
    </g>
    <g stroke="#000000" stroke-width="1.1111">
    <line x1="190.5" y1="441.5" x2="190.5" y2="446.5"/>
<line x1="378.5" y1="441.5" x2="378.5" y2="446.5"/>
<line x1="566.5" y1="441.5" x2="566.5" y2="446.5"/>
<line x1="755.5" y1="441.5" x2="755.5" y2="446.5"/>
<line x1="943.5" y1="441.5" x2="943.5" y2="446.5"/>
<line x1="53.5" y1="423.5" x2="48.5" y2="423.5"/>
<line x1="53.5" y1="371.5" x2="48.5" y2="371.5"/>
<line x1="53.5" y1="318.5" x2="48.5" y2="318.5"/>
<line x1="53.5" y1="266.5" x2="48.5" y2="266.5"/>
<line x1="53.5" y1="213.5" x2="48.5" y2="213.5"/>
<line x1="53.5" y1="161.5" x2="48.5" y2="161.5"/>
<line x1="53.5" y1="108.5" x2="48.5" y2="108.5"/>
<line x1="53.5" y1="55.5" x2="48.5" y2="55.5"/>
    </g>
    <g font-family="'DejaVu Sans', 'Liberation Sans', sans-serif" font-size="13.8889" fill="#000000">
    <text x="189.52" y="461.59" text-anchor="middle">2000</text>
<text x="377.51" y="461.55" text-anchor="middle">4000</text>
<text x="566.61" y="461.57" text-anchor="middle">6000</text>
<text x="754.57" y="461.50" text-anchor="middle">8000</text>
<text x="941.93" y="461.60" text-anchor="middle">10000</text>
<text x="44.81" y="429.54" text-anchor="end">0</text>
<text x="43.71" y="376.52" text-anchor="end">1</text>
<text x="43.71" y="324.60" text-anchor="end">2</text>
<text x="43.73" y="271.51" text-anchor="end">3</text>
<text x="43.78" y="219.53" text-anchor="end">4</text>
<text x="43.74" y="166.54" text-anchor="end">5</text>
<text x="43.75" y="114.62" text-anchor="end">6</text>
<text x="43.81" y="61.59" text-anchor="end">7</text>
<text x="518.51" y="481.61" text-anchor="middle">Iteration</text>
<text x="25.56" y="242.46" text-anchor="middle" transform="rotate(-90 25.56 242.46)">Error</text>
    <text x="519.13" y="27.59" text-anchor="middle" font-size="16.6667">Pose Errors over Training</text>
    <g>
    <rect x="785.5" y="44.5" width="193" height="46" rx="2.78" ry="2.78" fill="#ffffff" fill-opacity="0.8" stroke="#cccccc" stroke-opacity="0.8" stroke-width="1.3889"/>
    <line x1="790.0" y1="55.0" x2="818.1" y2="55.0" stroke="#d62728" stroke-width="2.0833" stroke-linecap="square"/>
    <line x1="790.0" y1="76.0" x2="818.1" y2="76.0" stroke="#1f77b4" stroke-width="2.0833" stroke-linecap="square"/>
    <text x="829.28" y="60.50">Rotation Error (deg)</text>
    <text x="829.24" y="81.54">Translation Error (m)</text>
    </g>
    </g>
    </svg>
    </div>
    </body></html>
